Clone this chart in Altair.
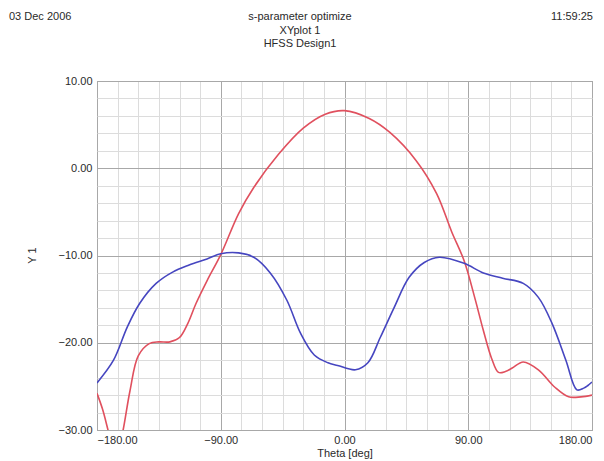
import altair as alt
import pandas as pd

# Red curve (theta deg, value)
red_theta = [-180, -176, -172, -168, -164, -161, -156, -150, -142, -135, -127, -120, -114, -108, -100, -90,
             -77, -66, -48, -30, -14, 0, 18, 33, 52, 67, 78, 87, 95, 101, 107, 112, 117, 122, 130, 141,
             153, 163, 172, 180]
red_val = [-25.8, -27.6, -30.0, -32.5, -32.0, -30.0, -25.5, -21.5, -20.1, -19.9, -19.9, -19.4, -17.8, -15.5,
           -12.9, -9.9, -5.2, -2.2, 1.6, 4.6, 6.2, 6.6, 5.7, 4.1, 0.9, -2.9, -7.3, -10.6, -15.0, -18.6,
           -21.8, -23.4, -23.3, -22.9, -22.2, -23.1, -25.1, -26.2, -26.2, -26.0]

# Blue curve
blue_theta = [-180, -168, -158, -149, -137, -125, -113, -100, -90, -77, -66, -54, -42, -32, -22, -12,
              -5, 8, 17, 26, 36, 47, 58, 69, 87, 101, 115, 130, 141, 151, 161, 169, 174, 177, 180]
blue_val = [-24.6, -22.0, -18.2, -15.5, -13.2, -11.9, -11.1, -10.4, -9.8, -9.7, -10.2, -12.0, -15.1, -18.9,
            -21.4, -22.3, -22.6, -23.1, -22.3, -19.4, -16.0, -12.5, -10.8, -10.2, -10.9, -12.0, -12.6,
            -13.2, -14.8, -17.8, -22.0, -25.4, -25.2, -24.9, -24.5]

series_names = ["red", "blue"]
series_colors = ["#e0505e", "#4646c0"]

header_left = "03 Dec 2006"
header_right = "11:59:25"
title_lines = ["s-parameter  optimize", "XYplot 1", "HFSS Design1"]
x_title = "Theta [deg]"
y_title = "Y 1"

x_grid = list(range(-180, 181, 15))
y_grid = list(range(-30, 11, 2))

df = pd.concat([
    pd.DataFrame({"theta": red_theta, "val": red_val, "s": "red", "o": range(len(red_theta))}),
    pd.DataFrame({"theta": blue_theta, "val": blue_val, "s": "blue", "o": range(len(blue_theta))}),
])

FONT = "Liberation Sans"
TXT = "#2a2a2a"

lines = alt.Chart(df).mark_line(clip=True, strokeWidth=1.6, interpolate="catmull-rom").encode(
    x=alt.X("theta:Q", scale=alt.Scale(domain=[-180, 180], nice=False, zero=False),
            axis=alt.Axis(values=x_grid, title=x_title,
                          labelExpr="datum.value % 90 === 0 ? format(datum.value, '.2f') : ''",
                          gridColor=alt.condition("datum.value % 90 === 0", alt.value("#a8a8a8"), alt.value("#dcdcdc")),
                          gridWidth=1, tickSize=0, labelPadding=4, domain=False,
                          labelFont=FONT, labelFontSize=11, labelColor=TXT,
                          titleFont=FONT, titleFontSize=11, titleColor=TXT, titleFontWeight="normal",
                          titleY=23, titleBaseline="middle")),
    y=alt.Y("val:Q", scale=alt.Scale(domain=[-30, 10], nice=False, zero=False),
            axis=alt.Axis(values=y_grid, title=y_title,
                          labelExpr="datum.value % 10 === 0 ? format(datum.value, '.2f') : ''",
                          gridColor=alt.condition("datum.value % 10 === 0", alt.value("#a8a8a8"), alt.value("#dcdcdc")),
                          gridWidth=1, tickSize=0, labelPadding=5, domain=False,
                          labelFont=FONT, labelFontSize=11, labelColor=TXT,
                          titleFont=FONT, titleFontSize=11, titleColor=TXT, titleFontWeight="normal",
                          titleX=-65, titleY=174, titleAngle=-90, titleBaseline="middle")),
    color=alt.Color("s:N", scale=alt.Scale(domain=series_names, range=series_colors), legend=None),
    order="o:Q",
)

def label(text, x, y, align):
    return alt.Chart(alt.Data(values=[{"t": text}])).mark_text(
        font=FONT, fontSize=11, color=TXT, align=align, baseline="middle"
    ).encode(text="t:N", x=alt.value(x), y=alt.value(y))

texts = [
    label(header_left, -88, -64, "left"),
    label(header_right, 496, -64, "right"),
    label(title_lines[0], 203, -64, "center"),
    label(title_lines[1], 203, -50, "center"),
    label(title_lines[2], 203, -37, "center"),
]

chart = alt.layer(lines, *texts).properties(
    width=495, height=349,
    autosize=alt.AutoSizeParams(type="none"),
    padding={"left": 89, "top": 73, "right": 4, "bottom": 31},
).configure_view(stroke="#8a8a8a", strokeWidth=1)

chart.save("out.html", embed_options={"renderer": "svg", "actions": False})
